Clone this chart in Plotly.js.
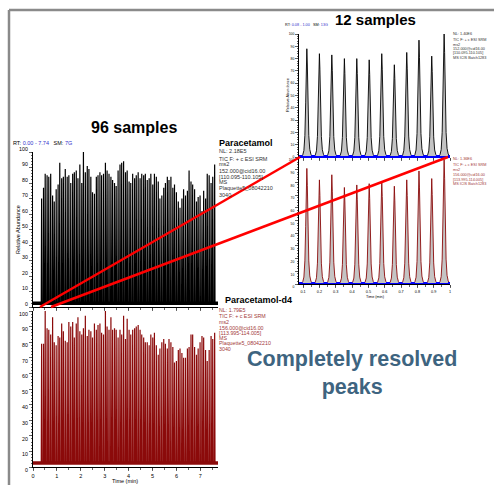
<!DOCTYPE html>
<html><head><meta charset="utf-8">
<script src="https://cdn.plot.ly/plotly-3.0.1.min.js"></script>
<style>html,body{margin:0;padding:0;background:#fff}#chart{width:494px;height:485px}</style>
</head><body><div id="chart"></div>
<script>
// ---- data ----
const leftTimeRange = [0, 7.74];
const rightTimeRange = [0.075, 1.0];
// 96 injection peak apex times (min)
const times96 = [0.36,0.44,0.51,0.59,0.66,0.74,0.82,0.89,0.97,1.05,1.12,1.20,1.27,1.35,1.43,1.50,1.58,1.66,1.73,1.81,1.88,1.96,2.04,2.11,2.19,2.27,2.34,2.42,2.49,2.57,2.65,2.72,2.80,2.87,2.95,3.03,3.10,3.18,3.26,3.33,3.41,3.48,3.56,3.64,3.71,3.79,3.87,3.94,4.02,4.09,4.17,4.25,4.32,4.40,4.48,4.55,4.63,4.70,4.78,4.86,4.93,5.01,5.08,5.16,5.24,5.31,5.39,5.47,5.54,5.62,5.69,5.77,5.85,5.92,6.00,6.08,6.15,6.23,6.30,6.38,6.46,6.53,6.61,6.68,6.76,6.84,6.91,6.99,7.07,7.14,7.22,7.29,7.37,7.45,7.52,7.60];
const paracetamol96 = [70,77,86,85,84,86,72,68,76,79,93,83,84,89,84,85,80,86,87,88,83,92,80,100,87,91,89,84,74,73,84,85,87,85,86,93,88,86,84,82,80,78,88,92,93,94,87,88,81,80,86,83,85,87,83,86,85,86,82,83,86,79,86,84,81,70,72,77,80,84,82,84,77,79,74,68,64,70,76,72,75,88,81,79,76,68,71,72,62,75,70,86,85,80,84,92];
const paracetamolD4_96 = [79,79,100,89,88,85,96,80,78,84,83,92,87,81,80,93,90,93,83,92,96,87,85,89,97,84,88,87,83,92,88,91,92,86,85,100,90,88,96,88,89,88,83,88,85,97,82,95,88,85,88,89,90,91,88,85,83,80,80,78,85,83,86,78,72,76,80,82,79,76,82,80,77,67,68,75,76,73,70,70,76,77,85,85,77,72,76,80,84,83,75,68,75,84,82,86];
const baseline96 = [2.5, 2.5];
// 12 injection peaks (zoomed run)
const times12 = [0.123,0.200,0.276,0.353,0.429,0.505,0.582,0.659,0.735,0.810,0.888,0.964];
const paracetamol12 = [88,84,83,80,80,79,84,75,85,95,82,100];
const paracetamolD4_12 = [91,82,86,76,78,79,81,77,82,89,83,98];
// integration baseline markers
const baselineMarks12 = [0.085,0.162,0.238,0.315,0.391,0.467,0.543,0.620,0.697,0.772,0.849,0.926,1.0];
// peak profile template (offset in min, fraction of apex)
const profOffset = [-0.036,-0.025,-0.018,-0.012,-0.007,-0.003,0,0.003,0.007,0.012,0.018,0.025,0.036];
const profShape  = [0,0.02,0.06,0.2,0.5,0.85,1,0.85,0.5,0.2,0.07,0.025,0];
const yTicks = [0,10,20,30,40,50,60,70,80,90,100];
const leftXTicks = [0,1,2,3,4,5,6,7];
const rightXTicks = [0.1,0.2,0.3,0.4,0.5,0.6,0.7,0.8,0.9,1.0];

// ---- build traces ----
function spikes(times, h, base, hw, range){
  const x=[range[0]], y=[base];
  for(let i=0;i<times.length;i++){ x.push(times[i]-hw, times[i], times[i]+hw); y.push(base, h[i], base); }
  x.push(range[1]); y.push(base);
  return {x,y};
}
function peaks(times, h){
  const x=[], y=[];
  for(let i=0;i<times.length;i++){ for(let k=0;k<profOffset.length;k++){ x.push(times[i]+profOffset[k]); y.push(h[i]*profShape[k]); } }
  return {x,y};
}
const W=494,H=485;
const px=v=>v/W, py=v=>1-v/H;
const FONT='Liberation Sans, Arial, sans-serif';

const s1=spikes(times96, paracetamol96, baseline96[0], 0.014, leftTimeRange);
const s2=spikes(times96, paracetamolD4_96, baseline96[0], 0.014, leftTimeRange);
const p1=peaks(times12, paracetamol12);
const p2=peaks(times12, paracetamolD4_12);

const traces=[
 {x:s1.x,y:s1.y,xaxis:'x',yaxis:'y',mode:'lines',line:{color:'#000',width:1.2},hoverinfo:'skip'},
 {x:leftTimeRange,y:baseline96,xaxis:'x',yaxis:'y',mode:'lines',line:{color:'#000',width:3.5}},
 {x:s2.x,y:s2.y,xaxis:'x2',yaxis:'y2',mode:'lines',line:{color:'#8b0a0a',width:1.2}},
 {x:leftTimeRange,y:baseline96,xaxis:'x2',yaxis:'y2',mode:'lines',line:{color:'#8b0a0a',width:3.5}},
 {x:p1.x,y:p1.y,xaxis:'x3',yaxis:'y3',mode:'lines',fill:'tozeroy',fillcolor:'#c4c4c4',line:{color:'#000',width:0.9}},
 {x:baselineMarks12,y:baselineMarks12.map(()=>0),xaxis:'x3',yaxis:'y3',mode:'lines+markers',line:{color:'#0000ff',width:2},marker:{color:'#0000ff',size:4,symbol:'square'}},
 {x:p2.x,y:p2.y,xaxis:'x4',yaxis:'y4',mode:'lines',fill:'tozeroy',fillcolor:'#c4c4c4',line:{color:'#8b0a0a',width:0.9}},
 {x:baselineMarks12,y:baselineMarks12.map(()=>0),xaxis:'x4',yaxis:'y4',mode:'lines+markers',line:{color:'#0000ff',width:2},marker:{color:'#0000ff',size:4,symbol:'square'}},
 {x:baselineMarks12,y:baselineMarks12.map(()=>100),xaxis:'x4',yaxis:'y4',mode:'lines',line:{color:'#0000ff',width:2}}
];

function yax(dom, anchor, fs, shift){
  return {domain:dom, anchor, range:[0,100], tickvals:yTicks, ticks:'outside', ticklen:3, tickwidth:0.8, ticklabelshift:shift,
    tickfont:{size:fs,family:FONT,color:'#000'}, showline:true, linecolor:'#000', linewidth:1, showgrid:false, zeroline:false,
    minor:{dtick:2,ticks:'outside',ticklen:1.5,tickwidth:0.6,tickcolor:'#000',showgrid:false}, fixedrange:true};
}
function xax(dom, anchor, range, vals, labels, fs){
  return {domain:dom, anchor, range, tickvals:vals, ticks:'outside', ticklen:3, tickwidth:0.8, showticklabels:labels,
    tickfont:{size:fs,family:FONT,color:'#000'}, showline:true, linecolor:'#000', linewidth:1, showgrid:false, zeroline:false,
    minor:{ticks:'outside',ticklen:1.5,tickwidth:0.6,tickcolor:'#000',showgrid:false}};
}
const LX=[px(33),px(218)], RX=[px(299),px(450)];
const layout={
 width:W,height:H,margin:{l:0,r:0,t:0,b:0},paper_bgcolor:'#fff',plot_bgcolor:'rgba(0,0,0,0)',showlegend:false,
 font:{family:FONT},
 xaxis:xax(LX,'y',leftTimeRange,leftXTicks,false,5.5),
 yaxis:yax([py(307),py(152)],'x',5.3,-3),
 xaxis2:xax(LX,'y2',leftTimeRange,leftXTicks,true,5.5),
 yaxis2:yax([py(467),py(311)],'x2',5.3,3),
 xaxis3:xax(RX,'y3',rightTimeRange,rightXTicks,false,3.8),
 yaxis3:yax([py(157),py(34)],'x3',3.4,-2.6),
 xaxis4:xax(RX,'y4',rightTimeRange,rightXTicks,true,3.8),
 yaxis4:yax([py(284),py(157)],'x4',3.4,3),
 shapes:[
  {type:'line',xref:'paper',yref:'paper',x0:px(9),y0:py(10),x1:px(494),y1:py(10),line:{color:'#8a8a8a',width:2.5}},
  {type:'line',xref:'paper',yref:'paper',x0:px(9),y0:py(10),x1:px(9),y1:py(485),line:{color:'#8a8a8a',width:2.5}},
  {type:'line',xref:'paper',yref:'paper',x0:px(40),y0:py(307),x1:px(300),y1:py(157),line:{color:'#ff0000',width:2.5}},
  {type:'line',xref:'paper',yref:'paper',x0:px(51),y0:py(307),x1:px(448),y1:py(157),line:{color:'#ff0000',width:2.5}}
 ],
 annotations:[]
};
function ann(text,x,y,size,color,opts){
  layout.annotations.push(Object.assign({text,x:px(x),y:py(y),xref:'paper',yref:'paper',showarrow:false,xanchor:'left',yanchor:'middle',
    font:{size,color,family:FONT}},opts||{}));
}
ann('<b>96 samples</b>',134,128,16,'#000',{xanchor:'center'});
ann('<b>12 samples</b>',375,20,15,'#000',{xanchor:'center'});
ann('RT: <span style="color:#3333cc">0.00 - 7.74</span>   SM: <span style="color:#3333cc">7G</span>',11,143,5.5,'#000');
ann('RT: <span style="color:#3333cc">0.08 - 1.00</span>   SM: <span style="color:#3333cc">13G</span>',283,25,3.8,'#000');
ann('Relative Abundance',18,230,5.5,'#000',{xanchor:'center',textangle:-90});
ann('Relative Abundance',288,95,3.8,'#000',{xanchor:'center',textangle:-90});
ann('Time (min)',125,481,5.5,'#000',{xanchor:'center'});
ann('Time (min)',375,297,3.8,'#000',{xanchor:'center'});
ann('<b>Paracetamol</b>',217,143,9,'#000');
const blk=[['NL: 2.18E5',151],['TIC F: + c ESI SRM',159],['ms2',164],['152.000@cid16.00',171],['[110.095-110.105]',177],['MS',182],['Plaquette5_08042210',188],['3040',195]];
blk.forEach(b=>ann(b[0],217,b[1],5.5,'#333'));
ann('<b>Paracetamol-d4</b>',223,300,9,'#000');
const red=[['NL: 1.79E5',310],['TIC F: + c ESI SRM',316],['ms2',322],['156.000@cid16.00',328],['[113.995-114.005]',333],['MS',338],['Plaquette5_08042210',343],['3040',349]];
red.forEach(b=>ann(b[0],217,b[1],5.3,'#a33a3a'));
const rt=[['NL: 1.40E6',34],['TIC F: + c ESI SRM',40],['ms2',45],['152.000@cid16.00',49],['[110.095-110.105]',53],['MS ICIS Batch1283',58]];
rt.forEach(b=>ann(b[0],451,b[1],3.8,'#333'));
const rb=[['NL: 1.36E6',159],['TIC F: + c ESI SRM',165],['ms2',170],['156.000@cid16.00',175],['[113.995-114.005]',180],['MS ICIS Batch1283',184]];
rb.forEach(b=>ann(b[0],451,b[1],3.8,'#a33a3a'));
ann('<b>Completely resolved<br>peaks</b>',352,373,21.5,'#3e6480',{xanchor:'center',align:'center'});

Plotly.newPlot('chart',traces,layout,{staticPlot:true,displayModeBar:false});
</script></body></html>
